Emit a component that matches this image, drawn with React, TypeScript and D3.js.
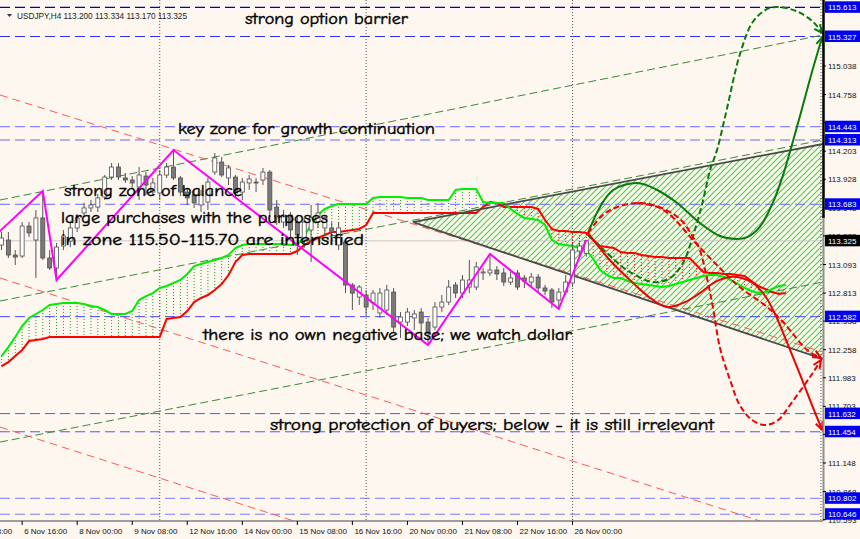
import React from "react";
import * as d3 from "d3";

const W = 860;
const H = 539;
const PR = 823;
const PB = 521;

const opens = [113.284,113.333,113.186,113.176,113.470,113.333,113.549,113.157,113.059,113.274,113.323,113.451,113.598,113.647,113.656,113.754,113.950,114.048,113.941,113.921,113.852,113.960,113.803,113.794,113.970,114.048,113.941,113.803,113.774,113.676,113.705,113.999,114.097,113.941,113.950,113.803,113.892,113.901,113.921,113.999,113.656,113.509,113.578,113.509,113.333,113.431,113.509,113.451,113.451,113.284,113.313,112.892,112.774,112.794,112.716,112.618,112.647,112.823,112.529,112.529,112.569,112.627,112.529,112.480,112.676,112.725,112.892,112.813,112.872,112.872,113.010,113.010,113.039,113.010,112.921,113.010,112.961,112.921,112.970,112.863,112.843,112.745,112.823,112.912,113.225,113.200];
const highs = [113.411,113.411,113.235,113.509,113.509,113.627,113.813,113.235,113.304,113.431,113.509,113.588,113.696,113.725,113.784,113.970,114.087,114.087,113.990,113.960,114.048,114.000,113.941,114.019,114.087,114.215,113.960,113.843,113.823,113.823,113.941,114.186,114.146,114.068,113.970,113.941,113.970,113.941,114.039,114.019,113.725,113.627,113.607,113.578,113.549,113.676,113.696,113.578,113.509,113.509,113.333,112.912,112.892,112.843,112.843,112.863,112.892,112.863,112.627,112.666,112.647,112.666,112.569,112.725,112.794,112.941,112.921,112.990,113.137,113.117,113.059,113.196,113.078,113.059,113.020,113.039,112.990,113.010,113.000,112.892,112.863,112.863,112.990,113.304,113.304,113.334];
const lows = [113.235,113.157,113.088,113.157,113.362,112.961,113.137,113.039,112.941,113.235,113.264,113.411,113.558,113.607,113.607,113.725,113.921,113.921,113.892,113.843,113.725,113.774,113.764,113.725,113.941,113.921,113.764,113.676,113.647,113.607,113.627,113.970,113.950,113.872,113.754,113.725,113.823,113.803,113.872,113.558,113.480,113.451,113.333,113.186,113.255,113.117,113.451,113.382,113.353,113.235,112.813,112.647,112.696,112.598,112.647,112.569,112.598,112.422,112.373,112.490,112.451,112.422,112.304,112.451,112.627,112.696,112.765,112.765,112.813,112.843,112.941,112.980,112.941,112.882,112.892,112.843,112.863,112.882,112.823,112.794,112.667,112.657,112.794,112.872,113.157,113.170];
const closes = [113.353,113.186,113.166,113.470,113.402,113.549,113.157,113.059,113.264,113.372,113.451,113.549,113.647,113.676,113.745,113.950,114.048,113.950,113.921,113.892,113.970,113.872,113.892,113.970,114.048,113.941,113.803,113.745,113.696,113.774,113.901,114.137,113.970,114.039,113.794,113.901,113.931,113.892,113.999,113.627,113.558,113.578,113.431,113.382,113.509,113.549,113.598,113.549,113.411,113.451,112.892,112.813,112.872,112.676,112.813,112.813,112.843,112.480,112.578,112.627,112.608,112.520,112.422,112.676,112.725,112.872,112.813,112.941,112.941,113.069,113.020,113.039,113.000,112.921,112.961,112.872,112.931,112.970,112.863,112.833,112.725,112.823,112.921,113.235,113.274,113.325];

const spanA = [112.196,112.284,112.383,112.490,112.569,112.608,112.647,112.696,112.706,112.716,112.716,112.716,112.706,112.686,112.676,112.647,112.608,112.608,112.608,112.637,112.745,112.784,112.813,112.863,112.882,112.912,112.941,113.000,113.078,113.098,113.117,113.137,113.157,113.186,113.255,113.284,113.294,113.294,113.294,113.294,113.294,113.294,113.284,113.284,113.372,113.480,113.578,113.637,113.666,113.686,113.686,113.686,113.686,113.686,113.745,113.754,113.754,113.754,113.754,113.745,113.745,113.745,113.725,113.725,113.725,113.725,113.823,113.833,113.833,113.833,113.705,113.696,113.696,113.696,113.637,113.588,113.549,113.539,113.529,113.480,113.333,113.294,113.284,113.274,113.255,113.235,113.147,113.039,112.990,112.961,112.961,112.931,112.912,112.902,112.892,112.882,112.872,112.882,112.902,112.921,112.941,112.961,112.980,112.990,112.990,112.971,112.941,112.902,112.863,112.833,112.813,112.823,112.853,112.882,112.892];
const spanB = [112.098,112.137,112.196,112.255,112.343,112.353,112.363,112.383,112.383,112.383,112.383,112.383,112.383,112.383,112.383,112.383,112.383,112.383,112.383,112.383,112.383,112.383,112.383,112.383,112.559,112.569,112.578,112.637,112.725,112.765,112.794,112.843,112.902,112.990,113.117,113.186,113.196,113.196,113.196,113.196,113.196,113.196,113.196,113.225,113.284,113.323,113.353,113.382,113.411,113.411,113.421,113.431,113.441,113.480,113.598,113.598,113.598,113.598,113.598,113.598,113.598,113.598,113.598,113.598,113.598,113.598,113.598,113.598,113.598,113.598,113.656,113.705,113.696,113.656,113.656,113.656,113.656,113.656,113.637,113.529,113.441,113.421,113.421,113.411,113.411,113.402,113.333,113.274,113.264,113.255,113.215,113.206,113.206,113.186,113.176,113.166,113.166,113.157,113.157,113.157,113.157,113.088,113.020,113.010,113.010,113.000,113.000,112.990,112.980,112.931,112.882,112.853,112.823,112.804,112.813];

const priceTicks = [115.038,114.758,114.483,114.203,113.928,113.648,113.373,113.093,112.813,112.538,112.258,111.983,111.703,111.428,111.148,110.868,110.593];
const levelPrices = [115.613,115.327,114.443,114.313,113.683,112.582,111.632,111.454,110.802,110.646];
const levelColors = ["#0000c8","#3030e8","#6a6aff","#6a6aff","#6a6aff","#4848f0","#5555f5","#5555f5","#7a7aff","#7a7aff"];
const lastPrice = 113.325;

const timeTickBars = [-5,3,11,19,27,35,43,51,59,67,75,83];
const timeTickLabels = ["5 Nov 08:00","6 Nov 16:00","8 Nov 00:00","9 Nov 08:00","12 Nov 16:00","14 Nov 00:00","15 Nov 08:00","16 Nov 16:00","20 Nov 00:00","21 Nov 08:00","22 Nov 16:00","26 Nov 00:00"];
const separatorBars = [23,53,83,119.1];

const zigBars = [-1,6,8,25,62,71,81,85];
const zigPrices = [113.372,113.813,112.941,114.215,112.304,113.196,112.657,113.334];

const chanBars = [-0.22,119.4];
const greenChannels = [[113.725,115.342],[112.735,114.313],[111.353,112.921]];
const redChannels = [[114.754,112.235],[112.961,110.383],[111.500,108.923]];

const triBars = [59.8,119.4,119.4];
const triPrices = [113.509,114.274,112.167];

const curveGreenSolid: [number,number][] = [[85.25,113.402],[87.0,113.656],[88.9,113.823],[92.4,113.892],[95.3,113.823],[98.2,113.696],[101.5,113.5],[104.4,113.372],[106.9,113.343],[108.4,113.362],[110.2,113.46],[112.1,113.696],[113.6,113.97],[114.6,114.195],[116.1,114.558],[117.8,114.979],[119.3,115.322]];
const curveGreenDashed: [number,number][] = [[85.25,113.382],[88.0,113.206],[90.9,113.039],[94.7,112.921],[97.2,112.961],[99.05,113.108],[100.5,113.372],[101.8,113.676],[103.0,114.019],[104.0,114.215],[105.4,114.607],[107.3,115.146],[109.2,115.469],[111.3,115.597],[112.7,115.616],[114.6,115.597],[116.1,115.558],[118.0,115.469],[119.3,115.362]];
const curveRedSolid: [number,number][] = [[85.25,113.402],[88.4,113.137],[91.8,112.912],[94.3,112.765],[96.7,112.676],[99.35,112.725],[101.5,112.813],[103.7,112.921],[105.9,112.971],[107.6,112.961],[109.2,112.912],[111.0,112.784],[112.7,112.569],[114.2,112.324],[116.1,112.01],[117.8,111.716],[119.3,111.471]];
const curveRedDashedA: [number,number][] = [[85.25,113.402],[87.4,113.578],[89.5,113.656],[92.4,113.696],[94.7,113.676],[97.2,113.607],[99.05,113.509],[100.5,113.362],[101.5,113.235],[102.5,112.97],[103.4,112.676],[104.4,112.284],[105.9,111.961],[107.3,111.716],[109.1,111.569],[111.0,111.52],[112.9,111.569],[114.6,111.716],[116.5,111.893],[118.0,112.039],[119.1,112.157]];
const curveRedDashedB: [number,number][] = [[92.4,113.696],[95.3,113.657],[97.2,113.578],[100.5,113.333],[104.4,113.059],[107.3,112.872],[111.3,112.676],[113.6,112.529],[117.1,112.255],[119.1,112.177]];

const headerText = "USDJPY,H4  113.200 113.334 113.170 113.325";
const notes = [
  { text: "strong option barrier", x: 245, y: 24, len: 163 },
  { text: "key zone for growth continuation", x: 178, y: 134, len: 257 },
  { text: "strong zone of balance", x: 64, y: 196, len: 178 },
  { text: "large purchases with the purposes", x: 61, y: 223, len: 267 },
  { text: "in zone 115.50-115.70 are intensified", x: 61, y: 245, len: 303 },
  { text: "there is no own negative base; we watch dollar", x: 203, y: 340, len: 369 },
  { text: "strong protection of buyers; below - it is still irrelevant", x: 270, y: 430, len: 444 },
];

const BG = "#fdf7ef";
const AXIS_FONT = "Tahoma, 'Liberation Sans', Arial, sans-serif";
const NOTE_FONT = "'Comic Sans MS', 'Comic Neue', 'DejaVu Sans', sans-serif";

export default function App() {
  const x = d3.scaleLinear().domain([0, 100]).range([1.5, 689.5]);
  const y = d3.scaleLinear().domain([115.038, 111.148]).range([66, 463]);
  const line = d3.line<[number, number]>().x((d) => x(d[0])).y((d) => y(d[1]));
  const smooth = d3
    .line<[number, number]>()
    .x((d) => x(d[0]))
    .y((d) => y(d[1]))
    .curve(d3.curveCatmullRom.alpha(0.5));

  const arrow = (pts: [number, number][], color: string) => {
    const n = pts.length;
    const x1 = x(pts[n - 2][0]), y1 = y(pts[n - 2][1]);
    const x2 = x(pts[n - 1][0]), y2 = y(pts[n - 1][1]);
    const ang = Math.atan2(y2 - y1, x2 - x1);
    const L = 9, a = 0.42;
    const p1 = [x2 - L * Math.cos(ang - a), y2 - L * Math.sin(ang - a)];
    const p2 = [x2 - L * Math.cos(ang + a), y2 - L * Math.sin(ang + a)];
    return (
      <path d={`M${p1[0]},${p1[1]}L${x2},${y2}L${p2[0]},${p2[1]}`} stroke={color} strokeWidth={2} fill="none" />
    );
  };

  const cloudA: [number, number][] = spanA.map((v, i) => [i, v]);
  const cloudB: [number, number][] = spanB.map((v, i) => [i, v]);
  const zig: [number, number][] = zigBars.map((b, i) => [b, zigPrices[i]]);
  const tri = triBars.map((b, i) => `${x(b)},${y(triPrices[i])}`).join(" ");

  return (
    <svg width={W} height={H} style={{ position: "fixed", left: 0, top: 0, display: "block" }}>
      <defs>
        <clipPath id="plot">
          <rect x={0} y={0} width={PR} height={PB} />
        </clipPath>
        <pattern id="hatch" patternUnits="userSpaceOnUse" width={6} height={6}>
          <path d="M-1,1 L1,-1 M0,6 L6,0 M5,7 L7,5" stroke="#3ed43e" strokeWidth={1.1} />
        </pattern>
      </defs>
      <rect x={0} y={0} width={W} height={H} fill={BG} />

      <g clipPath="url(#plot)">
        <polygon points={tri} fill="url(#hatch)" />

        {levelPrices.map((p, i) => (
          <line key={"lv" + i} x1={0} x2={PR} y1={y(p)} y2={y(p)} stroke={levelColors[i]} strokeWidth={i === 0 ? 1.3 : 1} strokeDasharray="10,5" />
        ))}

        <line x1={0} x2={PR} y1={y(lastPrice)} y2={y(lastPrice)} stroke="#c8c8c8" strokeWidth={1} />

        {separatorBars.map((b, i) => (
          <line key={"sep" + i} x1={x(b)} x2={x(b)} y1={0} y2={PB} stroke="#555" strokeWidth={1} strokeDasharray="1,2" />
        ))}

        {greenChannels.map((c, i) => (
          <path key={"gc" + i} d={line([[chanBars[0], c[0]], [chanBars[1], c[1]]])!} stroke="#3a8a3a" strokeWidth={1} strokeDasharray="8,4" fill="none" />
        ))}
        {redChannels.map((c, i) => (
          <path key={"rc" + i} d={line([[chanBars[0], c[0]], [chanBars[1], c[1]]])!} stroke="#ff5a5a" strokeWidth={1} strokeDasharray="8,5" fill="none" />
        ))}

        {spanA.map((a, i) => {
          const b = spanB[i];
          const col = a >= b ? "#1c9c1c" : "#ff1010";
          return (
            <line key={"cl" + i} x1={x(i)} x2={x(i)} y1={y(a)} y2={y(b)} stroke={col} strokeWidth={1} strokeDasharray="1,2" />
          );
        })}
        <path d={line(cloudB)!} stroke="#ff0000" strokeWidth={2} fill="none" />
        <path d={line(cloudA)!} stroke="#00ee00" strokeWidth={2} fill="none" />

        <path d={line([[triBars[0], triPrices[0]], [triBars[1], triPrices[1]]])!} stroke="#4a4a4a" strokeWidth={1.8} fill="none" />
        <path d={line([[triBars[0], triPrices[0]], [triBars[2], triPrices[2]]])!} stroke="#4a4a4a" strokeWidth={1.8} fill="none" />

        {opens.map((o, i) => {
          const c = closes[i];
          const cx = x(i);
          const top = y(Math.max(o, c));
          const bot = y(Math.min(o, c));
          const bull = c >= o;
          return (
            <g key={"c" + i}>
              <line x1={cx} x2={cx} y1={y(highs[i])} y2={y(lows[i])} stroke="#555" strokeWidth={1} />
              <rect x={cx - 2} y={top} width={4} height={Math.max(1, bot - top)} fill={bull ? "#ffffff" : "#7a7a7a"} stroke="#505050" strokeWidth={0.8} />
            </g>
          );
        })}

        <path d={line(zig)!} stroke="#ff00ff" strokeWidth={2} fill="none" />

        <path d={smooth(curveGreenDashed)!} stroke="#0a7a0a" strokeWidth={2} strokeDasharray="6,3" fill="none" />
        <path d={smooth(curveGreenSolid)!} stroke="#0a7a0a" strokeWidth={2} fill="none" />
        <path d={smooth(curveRedDashedA)!} stroke="#f00000" strokeWidth={2} strokeDasharray="6,3" fill="none" />
        <path d={smooth(curveRedDashedB)!} stroke="#f00000" strokeWidth={2} strokeDasharray="6,3" fill="none" />
        <path d={smooth(curveRedSolid)!} stroke="#f00000" strokeWidth={2} fill="none" />
        {arrow(curveGreenSolid, "#0a7a0a")}
        {arrow(curveGreenDashed, "#0a7a0a")}
        {arrow(curveRedSolid, "#f00000")}
        {arrow(curveRedDashedA, "#f00000")}
        {arrow(curveRedDashedB, "#f00000")}

        {notes.map((n, i) => (
          <text key={"n" + i} x={n.x} y={n.y} fontFamily={NOTE_FONT} fontSize={15} fill="#000" stroke="#000" strokeWidth={0.4} textLength={n.len} lengthAdjust="spacingAndGlyphs">
            {n.text}
          </text>
        ))}

        <path d="M7,14 L12,14 L9.5,17 Z" fill="#333" />
        <text x={17} y={19} fontFamily={AXIS_FONT} fontSize={8.5} fill="#222" textLength={170} lengthAdjust="spacingAndGlyphs">
          {headerText}
        </text>
      </g>

      <line x1={0} x2={PR} y1={PB} y2={PB} stroke="#808080" strokeWidth={1.5} />
      <line x1={PR + 0.5} x2={PR + 0.5} y1={0} y2={218} stroke="#000" strokeWidth={2.5} />
      <line x1={PR + 0.5} x2={PR + 0.5} y1={218} y2={PB} stroke="#909090" strokeWidth={2} />

      {priceTicks.map((p, i) => (
        <g key={"pt" + i}>
          <line x1={PR} x2={PR + 3} y1={y(p)} y2={y(p)} stroke="#000" />
          <text x={828} y={y(p) + 3} fontFamily={AXIS_FONT} fontSize={8} fill="#111">
            {p.toFixed(3)}
          </text>
        </g>
      ))}
      {levelPrices.map((p, i) => (
        <g key={"lb" + i}>
          <rect x={825} y={Math.max(0, y(p) - 6)} width={35} height={11.5} fill="#0000f0" />
          <text x={828} y={Math.max(0, y(p) - 6) + 9} fontFamily={AXIS_FONT} fontSize={8} fill="#fff">
            {p.toFixed(3)}
          </text>
        </g>
      ))}
      <rect x={825} y={y(lastPrice) - 6} width={35} height={11.5} fill="#000" />
      <text x={828} y={y(lastPrice) + 3} fontFamily={AXIS_FONT} fontSize={8} fill="#fff">
        {lastPrice.toFixed(3)}
      </text>

      {timeTickBars.map((b, i) => (
        <g key={"tt" + i}>
          <line x1={x(b)} x2={x(b)} y1={PB} y2={PB + 4} stroke="#000" />
          <text x={x(b) + 2} y={534} fontFamily={AXIS_FONT} fontSize={8} fill="#111">
            {timeTickLabels[i]}
          </text>
        </g>
      ))}
    </svg>
  );
}
